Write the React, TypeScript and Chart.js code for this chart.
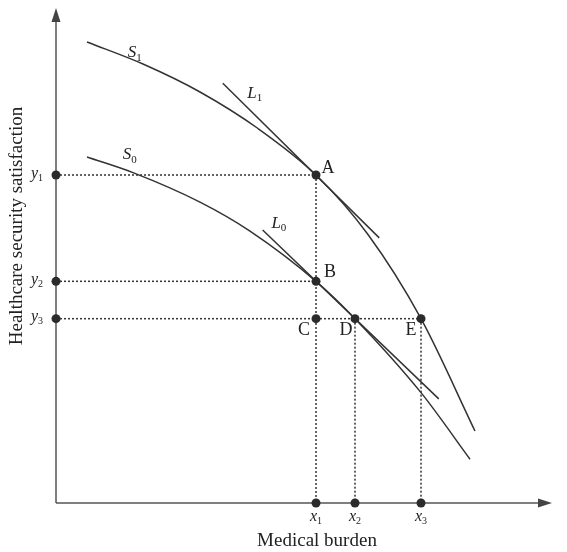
import { useEffect, useRef } from "react";
import { Chart, registerables } from "chart.js";

Chart.register(...registerables);

// Satisfaction curves (medical burden -> healthcare security satisfaction)
const s1X = [0.63, 1.768, 2.927, 4.106, 5.285, 6.341, 7.419, 8.516];
const s1Y = [9.389, 8.941, 8.371, 7.627, 6.68, 5.468, 3.754, 1.466];
const s0X = [0.63, 1.565, 2.927, 3.943, 5.285, 6.077, 7.419, 8.415];
const s0Y = [7.047, 6.729, 6.128, 5.538, 4.515, 3.754, 2.248, 0.892];

// Tangent lines at A (L1) and B (L0)
const l1X = [3.39, 6.57];
const l1Y = [8.55, 5.4];
const l0X = [4.2, 7.78];
const l0Y = [5.56, 2.12];

// Reference levels on the axes
const xLevels = [5.285, 6.077, 7.419];
const xLevelNames = ["x", "x", "x"];
const xLevelSubs = ["1", "2", "3"];
const yLevels = [6.68, 4.515, 3.754];
const yLevelSubs = ["1", "2", "3"];

// Named points: A, B, C, D, E
const pointNames = ["A", "B", "C", "D", "E"];
const pointX = [xLevels[0], xLevels[0], xLevels[0], xLevels[1], xLevels[2]];
const pointY = [yLevels[0], yLevels[1], yLevels[2], yLevels[2], yLevels[2]];

const xTitle = "Medical burden";
const yTitle = "Healthcare security satisfaction";

const zip = (xs: number[], ys: number[]) => xs.map((x, i) => ({ x, y: ys[i] }));

const INK = "#333";
const SERIF = "'Liberation Serif', 'DejaVu Serif', serif";

function drawSubLabel(
  ctx: CanvasRenderingContext2D,
  main: string,
  sub: string,
  cx: number,
  cy: number,
  size: number
) {
  ctx.font = `italic ${size}px ${SERIF}`;
  const w = ctx.measureText(main).width;
  ctx.font = `${Math.round(size * 0.62)}px ${SERIF}`;
  const ws = ctx.measureText(sub).width;
  const left = cx - (w + ws) / 2;
  ctx.textAlign = "left";
  ctx.textBaseline = "alphabetic";
  ctx.font = `italic ${size}px ${SERIF}`;
  ctx.fillText(main, left, cy + size * 0.35);
  ctx.font = `${Math.round(size * 0.62)}px ${SERIF}`;
  ctx.fillText(sub, left + w, cy + size * 0.55);
}

const annotationPlugin = {
  id: "diagramAnnotations",
  beforeDatasetsDraw(chart: any) {
    const { ctx, chartArea } = chart;
    const { left, right, top, bottom } = chartArea;
    ctx.save();
    ctx.strokeStyle = "#555";
    ctx.fillStyle = "#444";
    ctx.lineWidth = 1.5;
    // y axis with arrow
    ctx.beginPath();
    ctx.moveTo(left, bottom);
    ctx.lineTo(left, top + 8);
    ctx.stroke();
    ctx.beginPath();
    ctx.moveTo(left, top - 4);
    ctx.lineTo(left - 4.5, top + 10);
    ctx.lineTo(left + 4.5, top + 10);
    ctx.closePath();
    ctx.fill();
    // x axis with arrow
    ctx.beginPath();
    ctx.moveTo(left, bottom);
    ctx.lineTo(right - 8, bottom);
    ctx.stroke();
    ctx.beginPath();
    ctx.moveTo(right + 4, bottom);
    ctx.lineTo(right - 10, bottom - 4.5);
    ctx.lineTo(right - 10, bottom + 4.5);
    ctx.closePath();
    ctx.fill();
    ctx.restore();
  },
  afterDraw(chart: any) {
    const { ctx, chartArea, scales } = chart;
    const sx = scales.x;
    const sy = scales.y;
    const { left, bottom } = chartArea;
    ctx.save();
    ctx.fillStyle = "#222";

    // Axis titles
    ctx.font = `19px ${SERIF}`;
    ctx.textAlign = "center";
    ctx.textBaseline = "middle";
    ctx.fillText(xTitle, left + 261, bottom + 38);
    ctx.save();
    ctx.translate(17, 226);
    ctx.rotate(-Math.PI / 2);
    ctx.fillText(yTitle, 0, 0);
    ctx.restore();

    // Point letters
    const offsets = [
      [12, -7],
      [14, -9],
      [-12, 12],
      [-9, 12],
      [-10, 12],
    ];
    ctx.font = `18px ${SERIF}`;
    ctx.textAlign = "center";
    ctx.textBaseline = "middle";
    pointNames.forEach((n, i) => {
      const px = sx.getPixelForValue(pointX[i]) + offsets[i][0];
      const py = sy.getPixelForValue(pointY[i]) + offsets[i][1];
      ctx.fillText(n, px, py);
    });

    // Axis level labels
    yLevels.forEach((v, i) => {
      drawSubLabel(ctx, "y", yLevelSubs[i], left - 19, sy.getPixelForValue(v) - 3, 16);
    });
    xLevels.forEach((v, i) => {
      drawSubLabel(ctx, xLevelNames[i], xLevelSubs[i], sx.getPixelForValue(v), bottom + 12, 16);
    });

    // Curve and tangent names
    drawSubLabel(ctx, "S", "1", sx.getPixelForValue(1.6), sy.getPixelForValue(9.2), 17);
    drawSubLabel(ctx, "S", "0", sx.getPixelForValue(1.5), sy.getPixelForValue(7.12), 17);
    drawSubLabel(ctx, "L", "1", sx.getPixelForValue(4.04), sy.getPixelForValue(8.37), 17);
    drawSubLabel(ctx, "L", "0", sx.getPixelForValue(4.53), sy.getPixelForValue(5.72), 17);

    ctx.restore();
  },
};

export default function App() {
  const canvasRef = useRef<HTMLCanvasElement | null>(null);

  useEffect(() => {
    document.body.style.margin = "0";
    const canvas = canvasRef.current;
    if (!canvas) return;

    const dotted = {
      showLine: true,
      borderColor: "#333",
      borderWidth: 1.5,
      borderDash: [2, 2],
      pointRadius: 0,
      fill: false,
      order: 3,
      clip: false,
    };
    const curve = {
      showLine: true,
      borderColor: INK,
      borderWidth: 1.5,
      pointRadius: 0,
      fill: false,
      order: 2,
      clip: false,
    };

    const guides = [
      // horizontal guides from the y axis
      [{ x: 0, y: yLevels[0] }, { x: xLevels[0], y: yLevels[0] }],
      [{ x: 0, y: yLevels[1] }, { x: xLevels[0], y: yLevels[1] }],
      [{ x: 0, y: yLevels[2] }, { x: xLevels[2], y: yLevels[2] }],
      // vertical guides down to the x axis
      [{ x: xLevels[0], y: yLevels[0] }, { x: xLevels[0], y: 0 }],
      [{ x: xLevels[1], y: yLevels[2] }, { x: xLevels[1], y: 0 }],
      [{ x: xLevels[2], y: yLevels[2] }, { x: xLevels[2], y: 0 }],
    ];

    const markers = [
      ...zip(pointX, pointY),
      ...xLevels.map((x) => ({ x, y: 0 })),
      ...yLevels.map((y) => ({ x: 0, y })),
    ];

    const chart = new Chart(canvas, {
      type: "scatter",
      data: {
        datasets: [
          {
            label: "points",
            data: markers,
            showLine: false,
            pointRadius: 4.5,
            pointBackgroundColor: "#2b2b2b",
            pointBorderColor: "#2b2b2b",
            pointBorderWidth: 0,
            order: 0,
            clip: false,
          } as any,
          { label: "S1", data: zip(s1X, s1Y), cubicInterpolationMode: "monotone", ...curve } as any,
          { label: "S0", data: zip(s0X, s0Y), cubicInterpolationMode: "monotone", ...curve } as any,
          { label: "L1", data: zip(l1X, l1Y), ...curve } as any,
          { label: "L0", data: zip(l0X, l0Y), ...curve } as any,
          ...guides.map((g, i) => ({ label: `guide${i}`, data: g, ...dotted }) as any),
        ],
      },
      options: {
        responsive: false,
        animation: false,
        layout: { padding: { left: 56, right: 19, top: 12, bottom: 49 } },
        plugins: { legend: { display: false }, tooltip: { enabled: false } },
        events: [],
        scales: {
          x: { type: "linear", min: 0, max: 10, display: false },
          y: { type: "linear", min: 0, max: 10, display: false },
        },
      },
      plugins: [annotationPlugin],
    });

    return () => chart.destroy();
  }, []);

  return (
    <div style={{ width: 567, height: 552, background: "#fff" }}>
      <canvas ref={canvasRef} width={567} height={552} />
    </div>
  );
}
